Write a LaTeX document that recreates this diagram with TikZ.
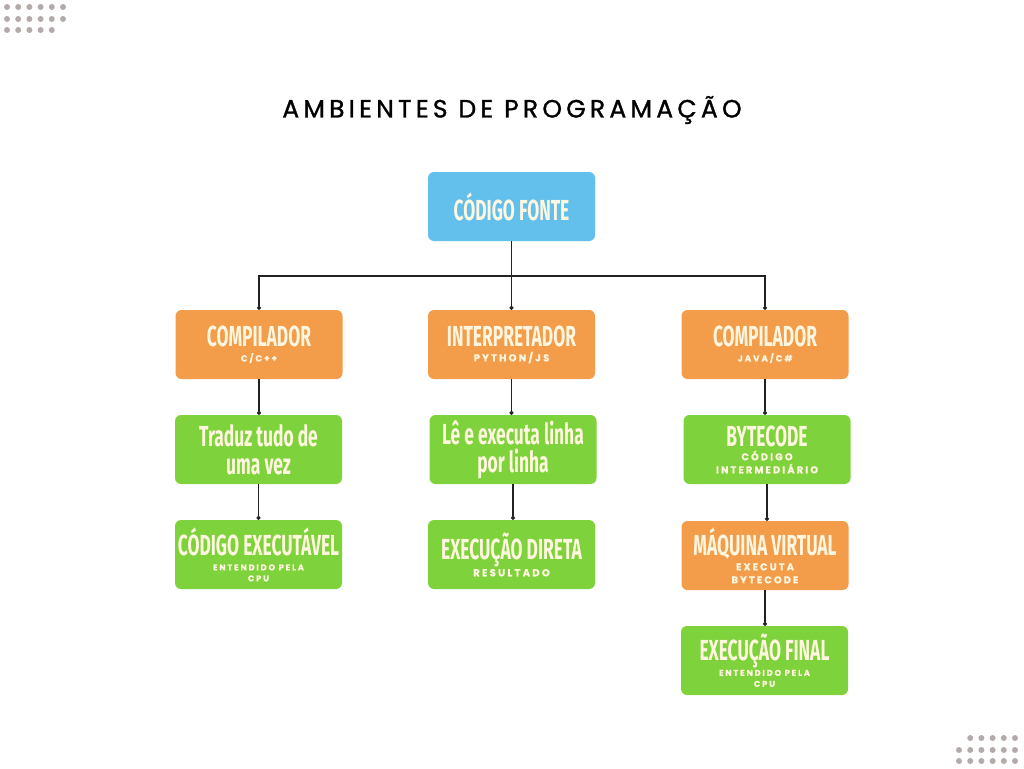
\documentclass[tikz,border=0pt]{standalone}
\usepackage{fontspec}
\usetikzlibrary{arrows.meta}

\newfontfamily\titlefont[LetterSpace=17,FakeBold=1.2]{Poppins}
\newfontfamily\boxfont[FakeStretch=0.6]{Fira Sans}
\newfontfamily\subfont[LetterSpace=22,FakeBold=0.8]{Poppins}
\newcommand\subline[2][9.8]{{\subfont\fontsize{#1}{#1}\selectfont #2}}

\definecolor{fonteBlue}{HTML}{63BFEB}
\definecolor{toolOrange}{HTML}{F39C4A}
\definecolor{stepGreen}{HTML}{7ED23C}
\definecolor{boxText}{HTML}{FFF6DF}
\definecolor{dotGray}{HTML}{B3ABAA}
\definecolor{lineGray}{HTML}{222222}

\begin{document}
\begin{tikzpicture}
[x=1pt,y=-1pt,
  boxDecorate/.style={shape=rectangle,rounded corners=6pt,minimum width=167pt,
    minimum height=69pt,inner sep=0pt,align=center,text=boxText,
    font=\boxfont\bfseries\fontsize{29}{28}\selectfont},
  blueBox/.style={boxDecorate,fill=fonteBlue},
  orangeBox/.style={boxDecorate,fill=toolOrange},
  greenBox/.style={boxDecorate,fill=stepGreen},
  dotDecorate/.style={shape=circle,fill=dotGray,inner sep=0pt,minimum size=6pt},
  lineDecorate/.style={-{Circle[length=4pt]},line width=1.1pt,draw=lineGray}]
\useasboundingbox (0,0) rectangle (1024,768);
%% corner dots
\foreach \x in {0,...,5} {
  \node[dotDecorate] (dtl1\x) at (7+11.2*\x,7) {};
  \node[dotDecorate] (dtl2\x) at (7+11.2*\x,19) {};
  \node[dotDecorate] (dbr2\x) at (959+11.2*\x,750) {};
  \node[dotDecorate] (dbr3\x) at (959+11.2*\x,761) {};
}
\foreach \x in {0,...,4} {
  \node[dotDecorate] (dtl3\x) at (7+11.2*\x,30) {};
  \node[dotDecorate] (dbr1\x) at (970.2+11.2*\x,738) {};
}
%% title
\node (title) at (512,110) {\titlefont\fontsize{25}{27}\selectfont AMBIENTES DE PROGRAMAÇÃO};
%% boxes
\foreach \nodename/\x/\y/\kind/\label in {
  fonte/511.5/206.5/blueBox/{CÓDIGO FONTE},
  compc/259/344.5/orangeBox/{COMPILADOR\\[-13pt]\subline[8.8]{C/C++}},
  interp/511.5/344.5/orangeBox/{INTERPRETADOR\\[-13pt]\subline[10]{PYTHON/JS}},
  compj/765/344.5/orangeBox/{COMPILADOR\\[-13pt]\subline[8.8]{JAVA/C\#}},
  traduz/258.5/449.5/greenBox/{Traduz tudo de\\uma vez},
  le/513/449.5/greenBox/{Lê e executa linha\\por linha},
  byte/767/449.5/greenBox/{BYTECODE\\[-14pt]\subline{CÓDIGO}\\[-15pt]\subline{INTERMEDIÁRIO}},
  exec/258.5/554.5/greenBox/{CÓDIGO EXECUTÁVEL\\[-13pt]\subline[8.3]{ENTENDIDO PELA}\\[-17pt]\subline[8.3]{CPU}},
  direta/511.5/554.5/greenBox/{EXECUÇÃO DIRETA\\[-11pt]\subline[10.1]{RESULTADO}},
  maquina/765/555.5/orangeBox/{MÁQUINA VIRTUAL\\[-13pt]\subline{EXECUTA}\\[-15pt]\subline{BYTECODE}},
  final/764.5/660.5/greenBox/{EXECUÇÃO FINAL\\[-13pt]\subline[8.3]{ENTENDIDO PELA}\\[-17pt]\subline[8.3]{CPU}}}
{
  \node (\nodename) at (\x,\y) [\kind] {\label};
}
%% connectors
\coordinate (split) at (511.5,276);
\draw[lineDecorate] (fonte.south) -- (interp.north);
\draw[lineDecorate] (split) -| (compc.north);
\draw[lineDecorate] (split) -| (compj.north);
\path
\foreach \startnode/\endnode in {
  compc/traduz, traduz/exec, interp/le, le/direta, compj/byte, byte/maquina, maquina/final}
{
  (\startnode.south) edge[lineDecorate] (\startnode.south |- \endnode.north)
};
\end{tikzpicture}
\end{document}
